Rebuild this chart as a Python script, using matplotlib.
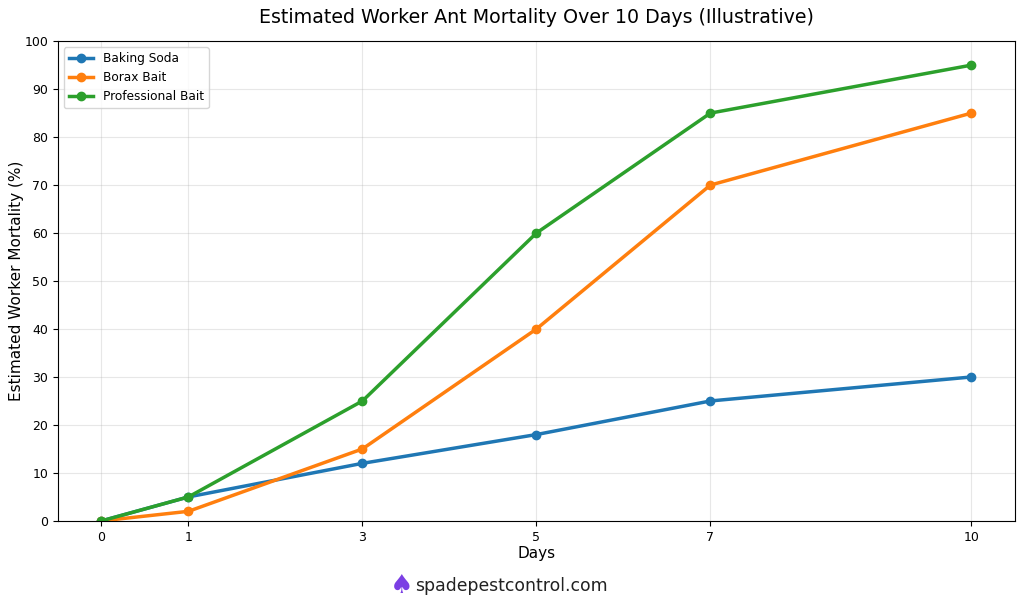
import matplotlib
matplotlib.use("Agg")
import matplotlib.pyplot as plt

days = [0, 1, 3, 5, 7, 10]
baking_soda = [0, 5, 12, 18, 25, 30]
borax_bait = [0, 2, 15, 40, 70, 85]
professional_bait = [0, 5, 25, 60, 85, 95]

fig = plt.figure(figsize=(10.24, 6.05), dpi=100)
ax = fig.add_axes([0.0566, 0.139, 0.9345, 0.793])

ax.plot(days, baking_soda, marker='o', linewidth=2.5, markersize=6, color='#1f77b4', label='Baking Soda')
ax.plot(days, borax_bait, marker='o', linewidth=2.5, markersize=6, color='#ff7f0e', label='Borax Bait')
ax.plot(days, professional_bait, marker='o', linewidth=2.5, markersize=6, color='#2ca02c', label='Professional Bait')

ax.set_xticks(days)
ax.set_xlim(-0.5, 10.5)
ax.set_ylim(0, 100)
ax.set_yticks(range(0, 101, 10))
ax.grid(True, alpha=0.3)
ax.set_xlabel('Days', fontsize=11, labelpad=2)
ax.set_ylabel('Estimated Worker Mortality (%)', fontsize=11, labelpad=0)
ax.tick_params(labelsize=9)
ax.legend(loc='upper left', fontsize=8.7)
ax.set_title('Estimated Worker Ant Mortality Over 10 Days (Illustrative)', fontsize=13.7, pad=13)

# watermark
fig.text(0.392, 0.032, '\u2660', ha='center', va='center', fontsize=19, color='#7b3fe4')
fig.text(0.405, 0.032, 'spadepestcontrol.com', ha='left', va='center', fontsize=12.4, color='#222222')

fig.savefig('out.png', dpi=100)
